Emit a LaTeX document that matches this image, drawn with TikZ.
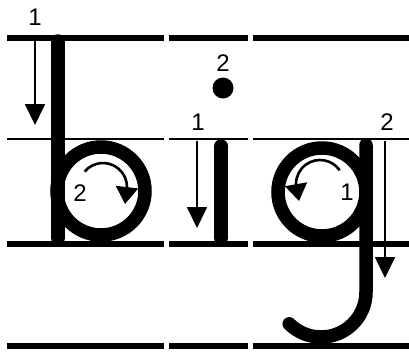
\documentclass[tikz,border=0pt]{standalone}
\usepackage{fontspec}
\setmainfont{Liberation Sans}
\usepackage{tikz}
\usetikzlibrary{arrows.meta}

\begin{document}
\begin{tikzpicture}[x=1pt, y=-1pt,
    guide/.style={line width=5.5pt},
    midguide/.style={line width=1.8pt},
    letter/.style={line width=13.5pt, line cap=round},
    strokearrow/.style={line width=1.8pt, -{Triangle[width=20pt, length=21pt]}},
    turnarrow/.style={line width=2.6pt, -{Triangle[width=22pt, length=17pt]}},
    numlabel/.style={font=\fontsize{24}{27}\selectfont, inner sep=0pt}]
    \useasboundingbox (0,0) rectangle (409,356);

    % Schreiblinien
    \foreach \xa/\xb in {7/164, 169/248, 253/409} {
        \draw[guide] (\xa,38) -- (\xb,38);
        \draw[midguide] (\xa,139) -- (\xb,139);
        \draw[guide] (\xa,244) -- (\xb,244);
        \draw[guide] (\xa,346) -- (\xb,346);
    }

    % b
    \draw[letter] (58,41) -- (58,238);
    \draw[letter] (101,191) circle[radius=44];
    \node[numlabel] (b1) at (35,17) {1};
    \coordinate (b1start) at (35,41);
    \coordinate (b1end) at (35,125);
    \draw[strokearrow] (b1start) -- (b1end);
    \node[numlabel] (b2) at (80,193) {2};
    \draw[turnarrow] (103,187) ++(-140:24) arc[start angle=-140, end angle=0, radius=24] -- ++(-2,17);

    % i
    \draw[letter] (221,146) -- (221,238);
    \fill (223,88) circle[radius=10.5];
    \node[numlabel] (i2) at (223,63) {2};
    \node[numlabel] (i1) at (198,122) {1};
    \coordinate (i1start) at (197,141);
    \coordinate (i1end) at (197,228);
    \draw[strokearrow] (i1start) -- (i1end);

    % g
    \draw[letter] (322,192) circle[radius=44];
    \draw[letter] (366,145) -- (366,292) arc[start angle=0, end angle=135, radius=45];
    \node[numlabel] (g1) at (347,192) {1};
    \draw[turnarrow] (320,184) ++(-35:24) arc[start angle=-35, end angle=-180, radius=24] -- ++(3,17);
    \node[numlabel] (g2) at (387,122) {2};
    \coordinate (g2start) at (385,141);
    \coordinate (g2end) at (385,278);
    \draw[strokearrow] (g2start) -- (g2end);
\end{tikzpicture}
\end{document}
